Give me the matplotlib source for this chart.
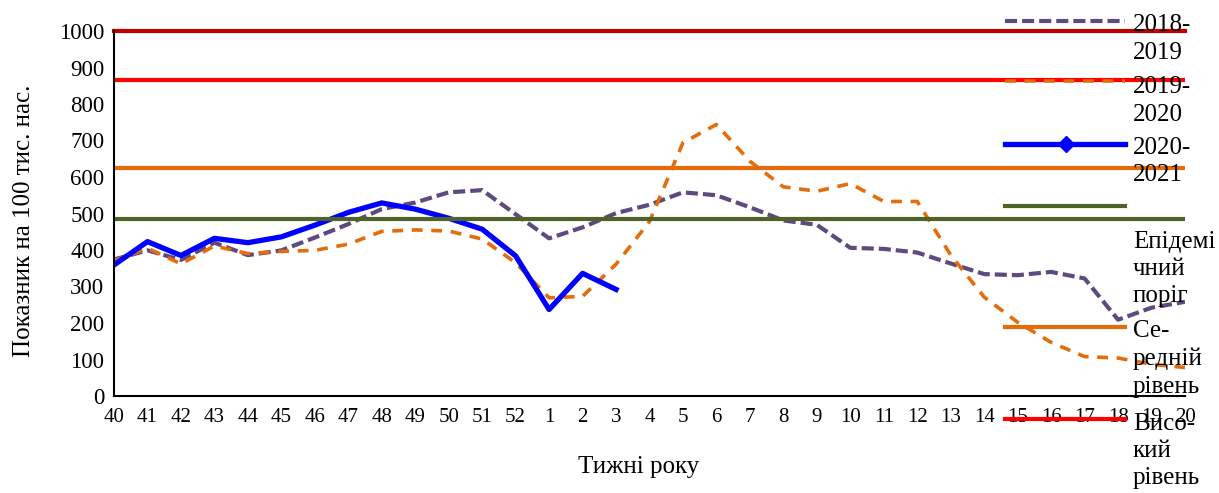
import matplotlib.pyplot as plt
from matplotlib.lines import Line2D

# ---- data ----
weeks = ['40', '41', '42', '43', '44', '45', '46', '47', '48', '49', '50',
         '51', '52', '1', '2', '3', '4', '5', '6', '7', '8', '9', '10', '11',
         '12', '13', '14', '15', '16', '17', '18', '19', '20']

season_2018_2019 = [374, 399, 373, 420, 386, 399, 434, 471, 512, 530, 558,
                    564, 498, 432, 462, 501, 524, 558, 550, 517, 481, 469,
                    406, 403, 393, 363, 334, 331, 340, 322, 209, 242, 258]

season_2019_2020 = [370, 405, 362, 411, 390, 396, 399, 416, 451, 455, 452,
                    430, 365, 269, 273, 361, 478, 694, 744, 643, 573, 561,
                    582, 533, 533, 386, 271, 202, 147, 108, 104, 87, 78]

season_2020_2021 = [359, 423, 385, 432, 420, 436, 468, 503, 529, 512, 487,
                    457, 384, 237, 336, 292]

epid_threshold = 485
medium_level = 624
high_level = 866
top_level = 1000

yticks = list(range(0, 1001, 100))

# ---- colours ----
PURPLE = '#5F4A80'
ORANGE = '#E46C0A'
BLUE = '#0000FF'
GREEN = '#4F6228'
RED = '#FF0000'
DARKRED = '#C00000'

plt.rcParams['font.family'] = ['Liberation Serif', 'DejaVu Serif']

W, H = 1219, 493
fig = plt.figure(figsize=(W / 100, H / 100), dpi=100)
ax = fig.add_axes([114 / W, 1 - 396 / H, (1185 - 114) / W, (396 - 31) / H])

x = list(range(len(weeks)))

ax.plot(x, season_2018_2019, color=PURPLE, linewidth=3, dashes=(2.9, 1.2))
ax.plot(x, season_2019_2020, color=ORANGE, linewidth=2.6, dashes=(3.0, 2.4))
ax.plot(x[:len(season_2020_2021)], season_2020_2021, color=BLUE, linewidth=3.8)

ax.axhline(epid_threshold, color=GREEN, linewidth=3)
ax.axhline(medium_level, color=ORANGE, linewidth=3)
ax.axhline(high_level, color=RED, linewidth=3)
ax.axhline(top_level, color=DARKRED, linewidth=3, clip_on=False)

ax.set_xlim(0, len(weeks) - 1)
ax.set_ylim(0, 1000)
ax.set_xticks(x)
ax.set_xticklabels(weeks)
ax.set_yticks(yticks)
ax.tick_params(axis='x', length=0, pad=9, labelsize=15)
ax.tick_params(axis='y', length=0, pad=7, labelsize=16.5)

for side in ['top', 'right']:
    ax.spines[side].set_visible(False)
for side in ['left', 'bottom']:
    ax.spines[side].set_linewidth(1.5)
    ax.spines[side].set_color('black')

ax.set_ylabel('Показник на 100 тис. нас.', fontsize=18)
ax.yaxis.set_label_coords(-0.074, 0.48)
ax.set_xlabel('Тижні року', fontsize=18)
ax.xaxis.set_label_coords(0.49, -0.165)

# ---- legend (Excel style, overlapping the plot on the right) ----
def fx(px):
    return px / W


def fy(py):
    return 1 - py / H


legend_items = [
    (20.7, dict(color=PURPLE, linewidth=3, dashes=(2.9, 1.2))),
    (81, dict(color=ORANGE, linewidth=2.6, dashes=(3.0, 2.4))),
    (144, dict(color=BLUE, linewidth=3.8)),
    (206, dict(color=GREEN, linewidth=3)),
    (327, dict(color=ORANGE, linewidth=3)),
    (419, dict(color=RED, linewidth=3)),
]
for ly, style in legend_items:
    fig.add_artist(Line2D([fx(1005), fx(1125)], [fy(ly), fy(ly)],
                          transform=fig.transFigure, **style))
fig.add_artist(Line2D([fx(1066)], [fy(144)], transform=fig.transFigure,
                      marker='D', markersize=8, color=BLUE, linestyle='none'))

legend_texts = [
    (39, '2018-\n2019'),
    (101, '2019-\n2020'),
    (161.5, '2020-\n2021'),
    (269, 'Епідемі\nчний\nпоріг'),
    (359, 'Се-\nредній\nрівень'),
    (451, 'Висо-\nкий\nрівень'),
]
for ty, label in legend_texts:
    fig.text(fx(1133), fy(ty), label, fontsize=18, ha='left', va='center',
             linespacing=1.32)

fig.savefig('out.png', dpi=100)
